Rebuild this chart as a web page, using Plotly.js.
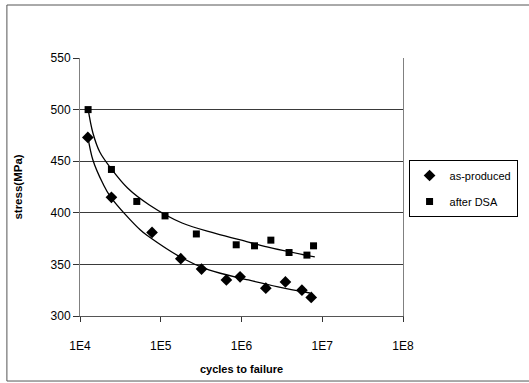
<!DOCTYPE html>
<html>
<head>
<meta charset="utf-8">
<script src="https://cdn.plot.ly/plotly-3.0.1.min.js"></script>
<style>
html,body{margin:0;padding:0;background:#fff;}
#chart{width:529px;height:383px;}
</style>
</head>
<body>
<div id="chart"></div>
<script>
// Marker data: cycles to failure vs stress (MPa)
const asProducedN = [12500, 24500, 78000, 177000, 320000, 650000, 960000, 2000000, 3500000, 5600000, 7300000];
const asProducedS = [473, 415, 381, 355.5, 345.5, 335, 338, 327, 333, 325, 318];
const afterDsaN = [12600, 24500, 50500, 113000, 276000, 860000, 1450000, 2310000, 3880000, 6460000, 7800000];
const afterDsaS = [500, 442, 411, 397, 379.5, 369, 368, 373.5, 361.5, 359, 368];

// Trendline points
const apTrendN = [12530, 14450, 19140, 23990, 55980, 72280, 183700, 393600, 1219000, 2840000, 7030000];
const apTrendS = [473.4, 451.2, 428.6, 415.3, 383.3, 376.6, 356.2, 344.6, 334.9, 328.3, 322.3];
const dsaTrendN = [12530, 14450, 17580, 23990, 38815, 72280, 183700, 475000, 1219000, 2333000, 8090000];
const dsaTrendS = [501.6, 477.3, 458.9, 443.4, 424.0, 407.6, 390.1, 380.1, 371.7, 365.9, 357.2];

const xTickVals = [1e4, 1e5, 1e6, 1e7, 1e8];
const xTickText = ['1E4', '1E5', '1E6', '1E7', '1E8'];
const yTickVals = [300, 350, 400, 450, 500, 550];

const FONT = 'Arial, "Liberation Sans", sans-serif';

const traces = [
  {x: apTrendN, y: apTrendS, mode: 'lines', line: {color: '#000', width: 1.3, shape: 'spline'}, showlegend: false, hoverinfo: 'skip'},
  {x: dsaTrendN, y: dsaTrendS, mode: 'lines', line: {color: '#000', width: 1.3, shape: 'spline'}, showlegend: false, hoverinfo: 'skip'},
  {x: asProducedN, y: asProducedS, mode: 'markers', name: 'as-produced', legendgroup: 'a',
   marker: {symbol: 'diamond', size: 9, color: '#000'}},
  {x: afterDsaN, y: afterDsaS, mode: 'markers', name: 'after DSA', legendgroup: 'b',
   marker: {symbol: 'square', size: 7, color: '#000'}}
];

const layout = {
  width: 529, height: 383,
  margin: {l: 80, r: 122, t: 58, b: 67, pad: 0},
  paper_bgcolor: '#fff', plot_bgcolor: '#fff',
  font: {family: FONT, size: 12, color: '#000'},
  showlegend: true,
  legend: {
    x: 1.3547, y: 0.6047, xanchor: 'right', yanchor: 'top',
    bordercolor: '#000', borderwidth: 1, bgcolor: '#fff',
    font: {family: FONT, size: 11, color: '#000'},
    itemwidth: 30,
    traceorder: 'grouped', tracegroupgap: 7
  },
  xaxis: {
    type: 'log', range: [4, 8],
    tickvals: xTickVals, ticktext: xTickText,
    ticks: 'outside', ticklen: 5, tickcolor: '#333', tickwidth: 1,
    ticklabelstandoff: 14,
    showgrid: false, zeroline: false,
    showline: true, linecolor: '#555', linewidth: 1,
    tickfont: {family: FONT, size: 12, color: '#000'},
    title: {text: '<b>cycles to failure</b>', font: {family: FONT, size: 11, color: '#000'}, standoff: 12},
    automargin: false, fixedrange: true
  },
  yaxis: {
    range: [300, 550],
    tickvals: yTickVals,
    ticks: 'outside', ticklen: 6, tickcolor: '#333', tickwidth: 1,
    showgrid: true, gridcolor: '#3a3a3a', gridwidth: 1,
    zeroline: false,
    showline: true, linecolor: '#808080', linewidth: 1, mirror: true,
    tickfont: {family: FONT, size: 12, color: '#000'},
    title: {text: '<b>stress(MPa)</b>', font: {family: FONT, size: 11.5, color: '#000'}, standoff: 25},
    automargin: false, fixedrange: true
  },
  shapes: [
    {type: 'rect', xref: 'paper', yref: 'paper', x0: -0.2263, x1: 1.6, y0: -0.252, y1: 1.2054,
     line: {color: '#555', width: 1}, fillcolor: 'rgba(0,0,0,0)', layer: 'below'}
  ]
};

Plotly.newPlot('chart', traces, layout, {staticPlot: true, displayModeBar: false});
</script>
</body>
</html>
